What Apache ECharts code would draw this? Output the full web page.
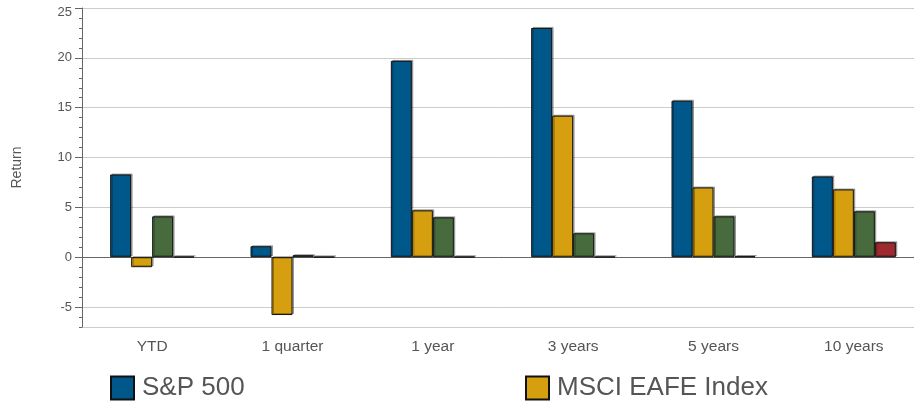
<!DOCTYPE html>
<html>
<head>
<meta charset="utf-8">
<script src="https://cdn.jsdelivr.net/npm/echarts@6/dist/echarts.min.js"></script>
<style>html,body{margin:0;padding:0;background:#fff;}#chart{width:914px;height:401px;}</style>
</head>
<body>
<div id="chart"></div>
<script>
var categories = ['YTD', '1 quarter', '1 year', '3 years', '5 years', '10 years'];
var sp500 = [8.3, 1.1, 19.7, 23.0, 15.7, 8.1];
var eafe = [-1.0, -5.8, 4.7, 14.2, 7.0, 6.8];
var bonds = [4.1, 0.2, 4.0, 2.4, 4.1, 4.6];
var cash = [0.05, 0.03, 0.05, 0.05, 0.1, 1.5];
var seriesNames = ['S&P 500', 'MSCI EAFE Index', 'Barclays U.S. Aggregate', '3-Month T-Bill'];
var colors = ['#00578A', '#D59F0F', '#476B3D', '#9E2A2F'];

var font = 'Liberation Sans, Arial, sans-serif';
var chart = echarts.init(document.getElementById('chart'));
var dataSets = [sp500, eafe, bonds, cash];
var series = dataSets.map(function (d, i) {
  return {
    name: seriesNames[i],
    type: 'bar',
    data: d,
    yAxisIndex: 0,
    barWidth: 21,
    barGap: '0%',
    itemStyle: {
      color: colors[i],
      borderColor: '#111',
      borderWidth: 1,
      shadowColor: 'rgba(0,0,0,0.3)',
      shadowOffsetX: 1.5,
      shadowOffsetY: -1,
      shadowBlur: 0
    }
  };
});

chart.setOption({
  animation: false,
  backgroundColor: '#fff',
  grid: { left: 82, top: 8, width: 842, height: 319, containLabel: false, outerBoundsMode: 'none' },
  legend: [
    {
      left: 105, top: 370, itemWidth: 23, itemHeight: 23, icon: 'rect',
      data: [seriesNames[0]],
      textStyle: { fontSize: 26, color: '#555', fontFamily: font, padding: [0, 0, 0, 3] }
    },
    {
      left: 520, top: 370, itemWidth: 23, itemHeight: 23, icon: 'rect',
      data: [seriesNames[1]],
      textStyle: { fontSize: 26, color: '#555', fontFamily: font, padding: [0, 0, 0, 3] }
    }
  ],
  xAxis: {
    type: 'category',
    data: categories,
    axisLine: { lineStyle: { color: '#666', width: 1 } },
    axisTick: { alignWithLabel: true, length: 5, lineStyle: { color: '#666' } },
    axisLabel: { color: '#555', fontSize: 15.5, fontFamily: font, margin: 12 }
  },
  yAxis: [
    {
      type: 'value',
      min: -7, max: 25, splitNumber: 6,
      name: 'Return', nameLocation: 'middle', nameGap: 58,
      nameTextStyle: { color: '#555', fontSize: 14, fontFamily: font },
      axisLine: { show: true, lineStyle: { color: '#666', width: 1 } },
      axisTick: { show: true, length: 7, lineStyle: { color: '#666' } },
      axisLabel: {
        color: '#555', fontSize: 13, fontFamily: font, margin: 10, showMinLabel: false,
        formatter: function (v) { return v === 25 ? '{top|25}' : String(v); },
        rich: { top: { color: '#555', fontSize: 13, fontFamily: font, padding: [9, 0, 0, 0] } }
      },
      splitLine: { show: true, lineStyle: { color: '#ccc', width: 1 } }
    },
    {
      type: 'value',
      position: 'left',
      min: -7, max: 25, interval: 1,
      axisLine: { show: false },
      axisTick: { show: true, length: 3, lineStyle: { color: '#666' } },
      axisLabel: { show: false },
      splitLine: { show: false }
    }
  ],
  series: series
});
</script>
</body>
</html>
